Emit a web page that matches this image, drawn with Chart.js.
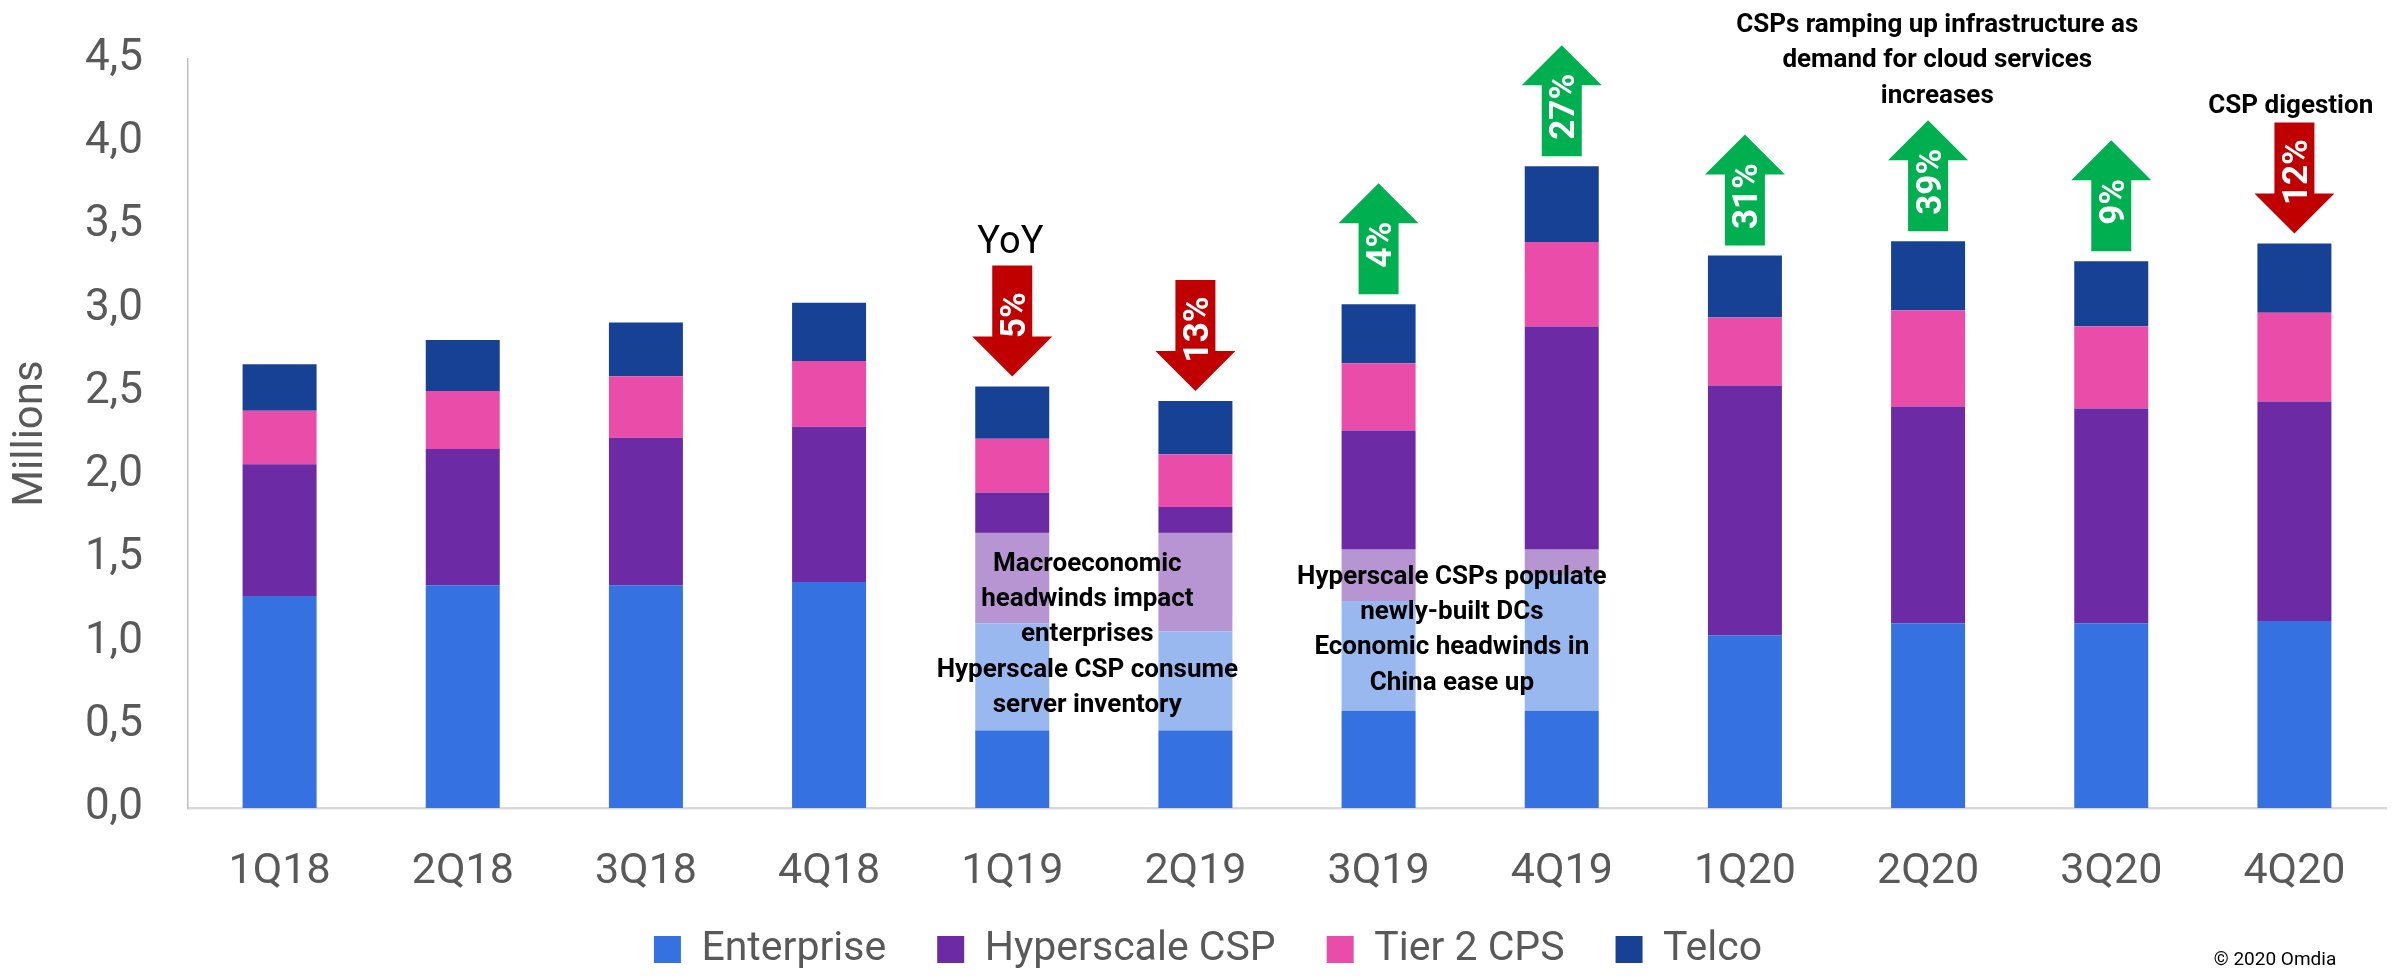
<!DOCTYPE html>
<html>
<head>
<meta charset="utf-8">
<script src="https://cdn.jsdelivr.net/npm/chart.js@4.4.0/dist/chart.umd.min.js"></script>
<style>
  html, body { margin: 0; padding: 0; background: #ffffff; }
  #wrap { width: 2394px; height: 980px; }
</style>
</head>
<body>
<div id="wrap"><canvas id="serverChart" width="2394" height="980"></canvas></div>
<script>
// Quarterly server shipments by segment (millions)
const quarters = ['1Q18', '2Q18', '3Q18', '4Q18', '1Q19', '2Q19', '3Q19', '4Q19', '1Q20', '2Q20', '3Q20', '4Q20'];
const enterprise = [1.274, 1.338, 1.338, 1.358, 1.110, 1.062, 1.244, 1.400, 1.038, 1.110, 1.110, 1.124];
const hyperscale = [0.791, 0.819, 0.887, 0.932, 0.785, 0.747, 1.024, 1.493, 1.500, 1.302, 1.290, 1.318];
const tier2 = [0.321, 0.349, 0.369, 0.396, 0.323, 0.317, 0.404, 0.507, 0.409, 0.579, 0.495, 0.533];
const telco = [0.280, 0.305, 0.323, 0.349, 0.314, 0.320, 0.355, 0.456, 0.372, 0.414, 0.390, 0.416];

const yTickLabels = ['0,0', '0,5', '1,0', '1,5', '2,0', '2,5', '3,0', '3,5', '4,0', '4,5'];

// year-over-year change shown in the arrows (null = no arrow)
const yoyChange = [null, null, null, null, -5, -13, 4, 27, 31, 39, 9, -12];

// text callouts: anchored at a (fractional) category index and a value
const notes = [
  { at: 4.41, value: 1.481, lines: ['Macroeconomic', 'headwinds impact', 'enterprises', 'Hyperscale CSP consume', 'server inventory'] },
  { at: 6.40, value: 1.403, lines: ['Hyperscale CSPs populate', 'newly-built DCs', 'Economic headwinds in', 'China ease up'] },
  { at: 9.05, value: 4.718, lines: ['CSPs ramping up infrastructure as', 'demand for cloud services', 'increases'] },
  { at: 10.98, value: 4.234, lines: ['CSP digestion'] }
];
// translucent panels behind the first two callouts (category range, value range)
const panels = [
  { from: 4, to: 5, low: 0.4645, high: 1.654 },
  { from: 6, to: 7, low: 0.583, high: 1.555 }
];

const colors = {
  enterprise: '#3571E1',
  hyperscale: '#6C2AA5',
  tier2: '#EA4DA9',
  telco: '#164194',
  up: '#00B050',
  down: '#C00000',
  axisText: '#595959'
};

Chart.defaults.font.family = 'Roboto, "DejaVu Sans", sans-serif';

// helper to get a pixel x for a fractional category index
function catX(xScale, f) {
  const x0 = xScale.getPixelForValue(0);
  const step = xScale.getPixelForValue(1) - x0;
  return x0 + f * step;
}

function drawArrow(ctx, cx, top, up, color) {
  const len = 111, headH = 40, headW = 80, shaftW = 40;
  ctx.beginPath();
  if (up) {
    ctx.moveTo(cx, top);
    ctx.lineTo(cx + headW / 2, top + headH);
    ctx.lineTo(cx + shaftW / 2, top + headH);
    ctx.lineTo(cx + shaftW / 2, top + len);
    ctx.lineTo(cx - shaftW / 2, top + len);
    ctx.lineTo(cx - shaftW / 2, top + headH);
    ctx.lineTo(cx - headW / 2, top + headH);
  } else {
    ctx.moveTo(cx - shaftW / 2, top);
    ctx.lineTo(cx + shaftW / 2, top);
    ctx.lineTo(cx + shaftW / 2, top + len - headH);
    ctx.lineTo(cx + headW / 2, top + len - headH);
    ctx.lineTo(cx, top + len);
    ctx.lineTo(cx - headW / 2, top + len - headH);
    ctx.lineTo(cx - shaftW / 2, top + len - headH);
  }
  ctx.closePath();
  ctx.fillStyle = color;
  ctx.fill();
}

// nudge layout boxes after Chart.js has placed them
const layoutTweaks = {
  id: 'layoutTweaks',
  afterLayout(chart) {
    // let the x tick labels draw below the (short) axis box
    chart.scales.x.bottom = chart.height;
    // centre the legend like the original
    chart.legend.left += 15;
    chart.legend.right += 15;
  }
};

const annotationPlugin = {
  id: 'annotations',
  afterDatasetsDraw(chart) {
    const ctx = chart.ctx;
    const x = chart.scales.x;
    const y = chart.scales.y;
    ctx.save();

    // translucent white panels
    panels.forEach(p => {
      const left = catX(x, p.from - 0.3);
      const right = catX(x, p.to + 0.3);
      const top = y.getPixelForValue(p.high);
      const bottom = y.getPixelForValue(p.low);
      ctx.fillStyle = 'rgba(255,255,255,0.5)';
      ctx.fillRect(left, top, right - left, bottom - top);
    });

    // callout text
    ctx.fillStyle = '#000000';
    ctx.textAlign = 'center';
    ctx.textBaseline = 'alphabetic';
    const noteSize = 26;
    ctx.font = 'bold ' + noteSize + 'px Roboto, "DejaVu Sans", sans-serif';
    notes.forEach(n => {
      const cx = catX(x, n.at);
      const firstMid = y.getPixelForValue(n.value);
      n.lines.forEach((line, i) => {
        ctx.fillText(line, cx, firstMid + i * 35.3 + noteSize * 0.711 / 2);
      });
    });

    // YoY label
    ctx.font = '38px Roboto, "DejaVu Sans", sans-serif';
    ctx.fillText('YoY', catX(x, 3.99), y.getPixelForValue(3.416) + 38 * 0.711 / 2);

    // arrows
    const totals = quarters.map((q, i) => enterprise[i] + hyperscale[i] + tier2[i] + telco[i]);
    const gap = 10;
    yoyChange.forEach((chg, i) => {
      if (chg === null) return;
      const cx = x.getPixelForValue(i);
      const barTop = y.getPixelForValue(totals[i]);
      const up = chg > 0;
      const top = barTop - gap - 111;
      drawArrow(ctx, cx, top, up, up ? colors.up : colors.down);
      const midY = top + 111 / 2 + (up ? 6 : -6);
      ctx.save();
      ctx.translate(cx, midY);
      ctx.rotate(-Math.PI / 2);
      ctx.fillStyle = '#ffffff';
      ctx.font = 'bold 35px Roboto, "DejaVu Sans", sans-serif';
      ctx.textAlign = 'center';
      ctx.textBaseline = 'alphabetic';
      ctx.fillText(Math.abs(chg) + '%', 0, 35 * 0.711 / 2);
      ctx.restore();
    });

    // source note
    ctx.fillStyle = '#000000';
    ctx.font = '19px Roboto, "DejaVu Sans", sans-serif';
    ctx.textAlign = 'center';
    ctx.fillText('\u00A9 2020 Omdia', 2275, 965);

    ctx.restore();
  }
};

const ctx = document.getElementById('serverChart').getContext('2d');
const serverChart = new Chart(ctx, {
  type: 'bar',
  data: {
    labels: quarters,
    datasets: [
      { label: 'Enterprise', data: enterprise, backgroundColor: colors.enterprise },
      { label: 'Hyperscale CSP', data: hyperscale, backgroundColor: colors.hyperscale },
      { label: 'Tier 2 CPS', data: tier2, backgroundColor: colors.tier2 },
      { label: 'Telco', data: telco, backgroundColor: colors.telco }
    ]
  },
  options: {
    responsive: false,
    animation: false,
    layout: { padding: { top: 59, right: 8, bottom: 0, left: 0 } },
    datasets: {
      bar: { barPercentage: 0.404, categoryPercentage: 1.0, borderWidth: 0 }
    },
    plugins: {
      tooltip: { enabled: false },
      title: { display: false },
      legend: {
        position: 'bottom',
        labels: {
          boxWidth: 27,
          boxHeight: 27,
          padding: 51,
          color: colors.axisText,
          font: { size: 41 }
        }
      }
    },
    scales: {
      x: {
        stacked: true,
        grid: { display: false, drawTicks: false },
        border: { display: true, color: '#D9D9D9', width: 2.5 },
        ticks: { color: colors.axisText, font: { size: 43 }, padding: 38, maxRotation: 0 },
        afterFit: scale => { scale.height = 70; }
      },
      y: {
        stacked: true,
        min: 0,
        max: 4.5,
        grid: { display: false, drawTicks: false },
        border: { display: true, color: '#BFBFBF', width: 1.5 },
        ticks: {
          stepSize: 0.5,
          color: colors.axisText,
          font: { size: 44 },
          padding: 45,
          callback: (value, index) => yTickLabels[index]
        },
        title: {
          display: true,
          text: 'Millions',
          color: colors.axisText,
          font: { size: 42 },
          padding: { top: 6, bottom: 0 }
        },
        afterFit: scale => {
          scale.width = 188;
          // the tick padding would otherwise push the plot top down
          scale.paddingTop = 0;
          scale.paddingBottom = 0;
        }
      }
    }
  },
  plugins: [layoutTweaks, annotationPlugin]
});
</script>
</body>
</html>
